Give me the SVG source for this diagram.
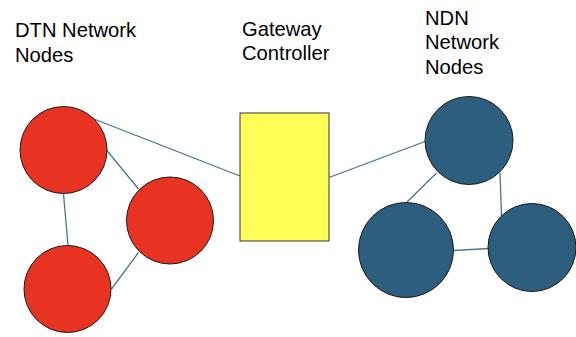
<svg xmlns="http://www.w3.org/2000/svg" width="576" height="337" viewBox="0 0 576 337">
<style>
.lbl{font-family:"Liberation Sans",Arial,sans-serif;font-size:20.2px;fill:#000}
.dtn{fill:#E83323;stroke:#1a1a1a;stroke-width:1}
.ndn{fill:#2E5E7E;stroke:#1a1a1a;stroke-width:1}
.gw{fill:#FFFF55;stroke:#333;stroke-width:1}
.edge{stroke:#4A7492;stroke-width:1.3;fill:none}
</style>
<rect width="576" height="337" fill="#fff"/>
<g id="connectors">
<line class="edge" x1="94" y1="119" x2="240" y2="176"/>
<line class="edge" x1="106.5" y1="150" x2="138.5" y2="189"/>
<line class="edge" x1="63.5" y1="194" x2="68" y2="245"/>
<line class="edge" x1="138.5" y1="252.5" x2="111.5" y2="289"/>
<line class="edge" x1="329" y1="177.5" x2="425" y2="141.5"/>
<line class="edge" x1="436.5" y1="173" x2="406" y2="203"/>
<line class="edge" x1="500" y1="173" x2="501.5" y2="216.5"/>
<line class="edge" x1="454" y1="250.5" x2="488.5" y2="248.5"/>
</g>
<g id="dtn-label"><text class="lbl" x="15" y="37">DTN Network</text><text class="lbl" x="15" y="61.5">Nodes</text></g>
<g id="gw-label"><text class="lbl" x="242" y="35.5">Gateway</text><text class="lbl" x="242" y="60">Controller</text></g>
<g id="ndn-label"><text class="lbl" x="425" y="24.5">NDN</text><text class="lbl" x="425" y="49">Network</text><text class="lbl" x="425" y="73.5">Nodes</text></g>
<g id="dtn1"><circle class="dtn" cx="63.5" cy="150" r="43.5"/></g>
<g id="dtn2"><circle class="dtn" cx="170" cy="220.5" r="43.5"/></g>
<g id="dtn3"><circle class="dtn" cx="67.5" cy="289" r="43.5"/></g>
<g id="gateway"><rect class="gw" x="240" y="113" width="89" height="128"/></g>
<g id="ndn1"><circle class="ndn" cx="469" cy="140.5" r="44"/></g>
<g id="ndn2"><circle class="ndn" cx="406" cy="250" r="47.5"/></g>
<g id="ndn3"><circle class="ndn" cx="532" cy="247.5" r="44"/></g>
</svg>
